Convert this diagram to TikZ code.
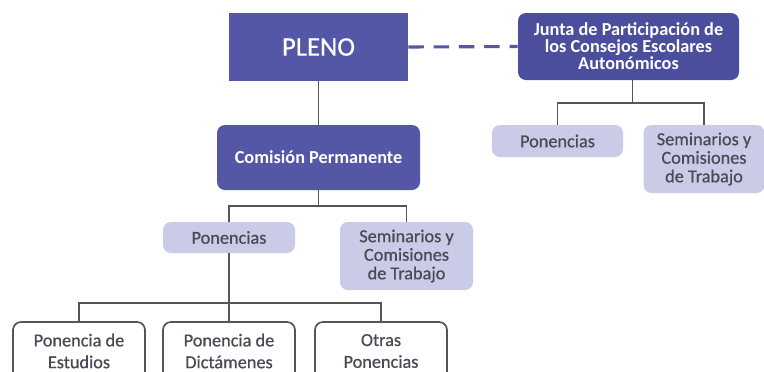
\documentclass[tikz,border=0pt]{standalone}
\usepackage{fontspec}
\setmainfont{Carlito}
\newfontfamily\medio[FakeBold=0.6]{Carlito}
\usetikzlibrary{math}

\definecolor{organo}{HTML}{5457A6}
\definecolor{organoosc}{HTML}{4B4E9D}
\definecolor{grupo}{HTML}{C9CBE7}
\definecolor{linea}{HTML}{555555}
\definecolor{texto}{HTML}{4A4A55}

\tikzset{
	organo/.style={draw=none, fill=organo, text=white, align=center, rounded corners=8*0.025cm, font=\bfseries\fontsize{13}{12}\selectfont, inner sep=0pt},
	grupo/.style={fill=grupo, text=texto, align=center, rounded corners=8*0.025cm, font=\medio\fontsize{13}{13.2}\selectfont, inner sep=0pt},
	ponencia/.style={draw=linea, line width=1.2pt, fill=white, text=texto, align=center, rounded corners=8*0.025cm, font=\medio\fontsize{13}{15.5}\selectfont, inner sep=0pt},
	rama/.style={draw=linea, line width=1.3pt},
}

\begin{document}
\begin{tikzpicture}[x=0.025cm, y=-0.025cm]
	% Constants
	\tikzmath{\px = 0.025;}

	\useasboundingbox (0,0) rectangle (764,371);
	\clip (0,0) rectangle (764,371);
	\fill[white] (0,0) rectangle (764,371);

	% Organos
	\node[organo, rounded corners=0pt, minimum width=179*\px cm, minimum height=68*\px cm, font=\medio\fontsize{19}{19}\selectfont] (pleno) at (318.5,47) {PLENO};
	\node[organo, fill=organoosc, minimum width=221*\px cm, minimum height=67*\px cm] (junta) at (628.5,46.5) {Junta de Participación de\\los Consejos Escolares\\Autonómicos};
	\node[organo, minimum width=203*\px cm, minimum height=65*\px cm] (comision) at (318.5,157.5) {Comisión Permanente};

	% Grupos
	\node[grupo, minimum width=132*\px cm, minimum height=31*\px cm] (ponL) at (229,237.5) {Ponencias};
	\node[grupo, minimum width=133*\px cm, minimum height=68*\px cm] (semL) at (406.5,256) {Seminarios y\\Comisiones\\de Trabajo};
	\node[grupo, minimum width=131*\px cm, minimum height=32*\px cm] (ponR) at (557.5,141) {Ponencias};
	\node[grupo, minimum width=121*\px cm, minimum height=68*\px cm] (semR) at (704,159) {Seminarios y\\Comisiones\\de Trabajo};

	% Ponencias
	\node[ponencia, minimum width=132*\px cm, minimum height=58*\px cm] (estudios) at (79,351) {Ponencia de\\Estudios};
	\node[ponencia, minimum width=132*\px cm, minimum height=58*\px cm] (dictamenes) at (229,351) {Ponencia de\\Dictámenes};
	\node[ponencia, minimum width=132*\px cm, minimum height=58*\px cm] (otras) at (381,351) {Otras\\Ponencias};

	% Lines
	\draw[draw=organo, line width=2.2pt, dash pattern=on 11pt off 7pt] (pleno.east) -- (junta.west);
	\draw[rama] (pleno.south) -- (comision.north);
	\draw[rama] (comision.south) -- ++(0,16) -| (ponL.north);
	\draw[rama] (comision.south) -- ++(0,16) -| (semL.north);
	\draw[rama] (junta.south) ++(4,0) -- ++(0,23) -| (ponR.north);
	\draw[rama] (junta.south) ++(4,0) -- ++(0,23) -| (semR.north);
	\draw[rama] (ponL.south) -- ++(0,50) -| (estudios.north);
	\draw[rama] (ponL.south) -- (dictamenes.north);
	\draw[rama] (ponL.south) -- ++(0,50) -| (otras.north);
\end{tikzpicture}
\end{document}
